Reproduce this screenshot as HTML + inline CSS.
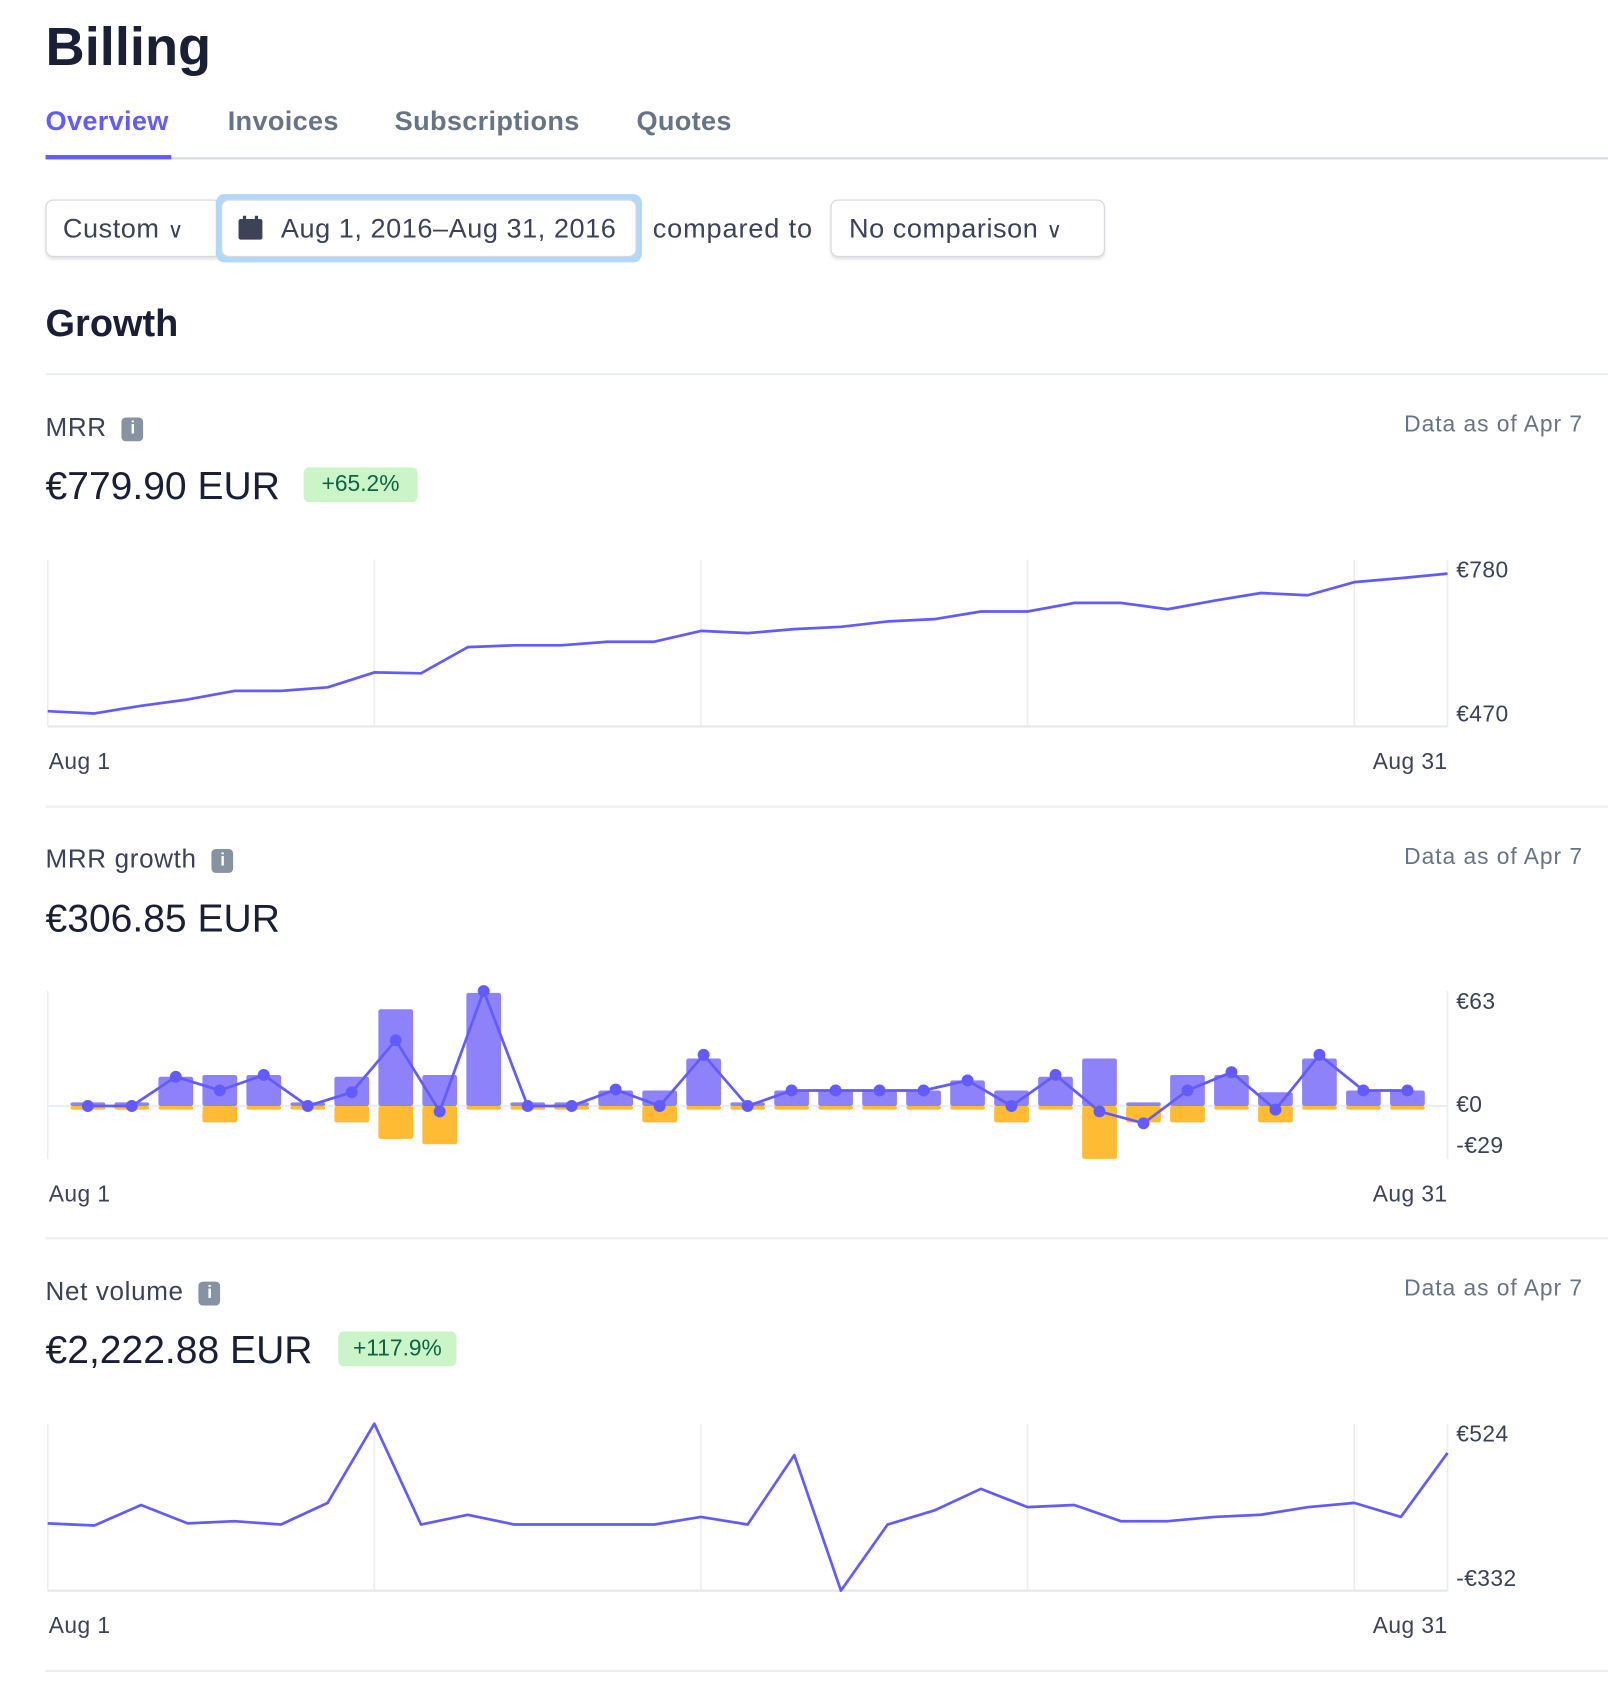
<!DOCTYPE html>
<html><head><meta charset="utf-8">
<style>
html,body{margin:0;padding:0;background:#fff;width:1608px;height:1700px;overflow:hidden}
#wrap{position:absolute;left:0;top:0;width:1483px;height:1568px;transform:scale(1.08429);transform-origin:0 0;font-family:"Liberation Sans",sans-serif;color:#1a1f36}
.a{position:absolute;white-space:nowrap}
.tab{font-size:25px;font-weight:bold;letter-spacing:0.3px}
.hr{position:absolute;left:42px;width:1441px;height:2px;background:#ebeef1}
.btn{position:absolute;border:1px solid #d5d8de;border-radius:7px;box-shadow:0 2px 3px rgba(0,0,0,.12);background:#fff;font-size:25px;color:#3c4257;box-sizing:border-box;letter-spacing:0.5px}
.lbl{font-size:24px;color:#3c4257;letter-spacing:0.6px}
.asof{font-size:21px;color:#697386;letter-spacing:0.9px}
.val{font-size:36px;color:#1a1f36}
.badge{position:absolute;background:#cbf4c9;color:#0e6245;font-size:21px;border-radius:5px;text-align:center;line-height:32px;height:32px}
.info{display:inline-block;width:20px;height:22px;background:#8792a2;border-radius:4px;color:#fff;font-size:16px;font-weight:bold;text-align:center;line-height:22px;vertical-align:2px;margin-left:14px;letter-spacing:0}
svg{position:absolute;left:0;top:0}
svg text{font-family:"Liberation Sans",sans-serif;font-size:21px;fill:#3c4257;letter-spacing:0.4px}
</style></head><body>
<div id="wrap">
<div class="a" style="left:42px;top:14px;font-size:50px;font-weight:bold">Billing</div>
<div class="a tab" style="left:42px;top:98px;color:#635bff">Overview</div>
<div class="a tab" style="left:210px;top:98px;color:#697386">Invoices</div>
<div class="a tab" style="left:364px;top:98px;color:#697386">Subscriptions</div>
<div class="a tab" style="left:587px;top:98px;color:#697386">Quotes</div>
<div class="a" style="left:42px;top:145px;width:1441px;height:2px;background:#d8dbe1"></div>
<div class="a" style="left:42px;top:143px;width:116px;height:4px;background:#635bff"></div>

<div class="btn" style="left:42px;top:184px;width:162px;height:53px;padding:12px 0 0 15px">Custom <span style="font-size:20px">&#8744;</span></div>
<div class="a" style="left:199px;top:179px;width:393px;height:63px;background:#b3d8f7;border-radius:8px"></div>
<div class="btn" style="left:204px;top:184px;width:383px;height:53px;padding:12px 0 0 54px;box-shadow:none">Aug 1, 2016–Aug 31, 2016</div>
<div class="a" style="left:220px;top:199px;width:22px;height:22px"><div style="position:absolute;top:3px;width:22px;height:19px;background:#3c4257;border-radius:2px"></div><div style="position:absolute;left:4px;top:0;width:3px;height:5px;background:#3c4257"></div><div style="position:absolute;left:15px;top:0;width:3px;height:5px;background:#3c4257"></div></div>
<div class="a" style="left:602px;top:197px;font-size:25px;color:#3c4257;letter-spacing:0.8px">compared to</div>
<div class="btn" style="left:766px;top:184px;width:253px;height:53px;padding:12px 0 0 16px">No comparison <span style="font-size:20px">&#8744;</span></div>

<div class="a" style="left:42px;top:279px;font-size:35px;font-weight:bold">Growth</div>
<div class="hr" style="top:344px"></div>

<div class="a lbl" style="left:42px;top:381px">MRR<span class="info">i</span></div>
<div class="a asof" style="right:23px;top:380px">Data as of Apr 7</div>
<div class="a val" style="left:42px;top:427px">€779.90 EUR</div>
<div class="badge" style="left:280px;top:431px;width:105px">+65.2%</div>
<div class="hr" style="top:743px"></div>

<div class="a lbl" style="left:42px;top:779px">MRR growth<span class="info">i</span></div>
<div class="a asof" style="right:23px;top:779px">Data as of Apr 7</div>
<div class="a val" style="left:42px;top:826px">€306.85 EUR</div>
<div class="hr" style="top:1141px"></div>

<div class="a lbl" style="left:42px;top:1178px">Net volume<span class="info">i</span></div>
<div class="a asof" style="right:23px;top:1177px">Data as of Apr 7</div>
<div class="a val" style="left:42px;top:1224px">€2,222.88 EUR</div>
<div class="badge" style="left:312px;top:1228px;width:109px">+117.9%</div>
<div class="hr" style="top:1540px"></div>

<svg id="charts" width="1483" height="1568"></svg>
</div>
<script>
const mrrValues=[475,470,487,501,520,520,528,561,559,617,621,621,629,629,653,648,657,662,674,679,696,696,715,715,701,720,737,732,761,770,780];
const mrrTicks=["€780","€470"];
const growthPositive=[2,2,16,17,17,2,16,53,17,62,2,2,8.5,8.5,26,2,8.5,8.5,8.5,8.5,14,8.5,16,26,2,17,17,7.5,26,8.5,8.5];
const growthNegative=[-2,-2,-2,-9,-2,-2,-9,-18,-21,-2,-2,-2,-2,-9,-2,-2,-2,-2,-2,-2,-2,-9,-2,-29,-9,-9,-2,-9,-2,-2,-2];
const growthNet=[0,0,16,8.5,17,0,7.5,36,-3,63,0,0,9,0,28,0,8.5,8.5,8.5,8.5,14,0,17,-3,-9.5,8.5,18.5,-2,28,8.5,8.5];
const growthTicks=["€63","€0","-€29"];
const netValues=[13,2,107,13,24,7,118,524,7,57,7,7,7,7,46,7,363,-332,7,79,190,96,107,24,24,46,57,96,118,46,374];
const netTicks=["€524","-€332"];
const xLabels=["Aug 1","Aug 31"];

const svg=document.getElementById('charts');
const NS='http://www.w3.org/2000/svg';
function mk(tag,attrs,parent){const e=document.createElementNS(NS,tag);for(const k in attrs)e.setAttribute(k,attrs[k]);(parent||svg).appendChild(e);return e;}
const X0=44,X1=1335;
function lin(d0,d1,r0,r1){return v=>r0+(v-d0)*(r1-r0)/(d1-d0);}
const xDay=lin(0,30,X0,X1);

function lineChart(name,values,ticks,vmin,vmax,yTop,yBot,top,bottom,offMax,offMin){
  const g=mk('g',{});
  
  
  const y=lin(vmin,vmax,yBot,yTop);
  [0,7,14,21,28,30].forEach(d=>{const l=mk('line',{x1:xDay(d),x2:xDay(d),y1:top,y2:bottom,stroke:'#ebeef1','stroke-width':1.5},g);
    });
  const b=mk('line',{x1:X0,x2:X1,y1:bottom,y2:bottom,stroke:'#e3e8ee','stroke-width':2},g);
  
  const p=mk('polyline',{points:values.map((v,i)=>xDay(i)+','+y(v)).join(' '),fill:'none',stroke:'#635bff','stroke-width':2.5,'stroke-linejoin':'round'},g);
  
  const t1=mk('text',{x:1343,y:y(vmax)+offMax,'dominant-baseline':'middle'},g);t1.textContent=ticks[0];
  
  const t2=mk('text',{x:1343,y:y(vmin)+offMin,'dominant-baseline':'middle'},g);t2.textContent=ticks[1];
  
  xAxisLabels(g,bottom+39);
}
function xAxisLabels(g,yy){
  const a=mk('text',{x:45,y:yy},g);a.textContent=xLabels[0];
  
  const b=mk('text',{x:X1,y:yy,'text-anchor':'end'},g);b.textContent=xLabels[1];
  
}
lineChart('mrr-chart',mrrValues,mrrTicks,470,780,529,658,516,670,-2,2);
lineChart('net-volume-chart',netValues,netTicks,-332,524,1313,1467,1313,1467,11,-10);

// MRR growth bar chart
(function(){
  const g=mk('g',{});
  
  
  const y=lin(0,63,1020,914);
  const xc=lin(0,30,81,1298);
  [X0,X1].forEach(xx=>{const l=mk('line',{x1:xx,x2:xx,y1:914,y2:1069,stroke:'#ebeef1','stroke-width':1.5},g);
    });
  const z=mk('line',{x1:X0,x2:X1,y1:y(0),y2:y(0),stroke:'#ebeef1','stroke-width':2},g);
  
  const w=32;
  growthPositive.forEach((v,i)=>{
    const r=mk('rect',{x:xc(i)-w/2,y:y(v),width:w,height:y(0)-y(v),fill:'#8d82fa',rx:2},g);
    
  });
  growthNegative.forEach((v,i)=>{
    const r=mk('rect',{x:xc(i)-w/2,y:y(0),width:w,height:y(v)-y(0),fill:'#ffbb33',rx:2},g);
    
  });
  const p=mk('polyline',{points:growthNet.map((v,i)=>xc(i)+','+y(v)).join(' '),fill:'none',stroke:'#635bff','stroke-width':2.5},g);
  
  growthNet.forEach((v,i)=>{
    const c=mk('circle',{cx:xc(i),cy:y(v),r:5.5,fill:'#635bff'},g);
    
  });
  const tv=[63,0,-29],off=[11,0,-11];
  growthTicks.forEach((t,i)=>{const e=mk('text',{x:1343,y:y(tv[i])+off[i],'dominant-baseline':'middle'},g);e.textContent=t;
    });
  xAxisLabels(g,1108);
})();
</script>
</body></html>
